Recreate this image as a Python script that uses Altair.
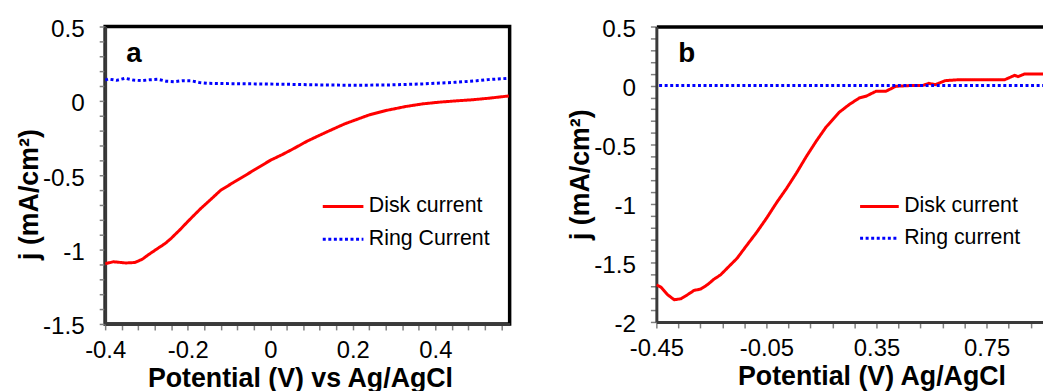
import altair as alt
import pandas as pd

FONT = "Liberation Sans"

# ---------------- Panel a data ----------------
a_disk_x = [-0.4, -0.38, -0.35, -0.328, -0.31, -0.296, -0.272, -0.255, -0.240, -0.220,
            -0.200, -0.185, -0.168, -0.145, -0.120, -0.09, -0.064, -0.03, 0.000, 0.03,
            0.056, 0.09, 0.136, 0.18, 0.240, 0.28, 0.328, 0.37, 0.408, 0.45, 0.488, 0.53, 0.578]
a_disk_y = [-1.095, -1.082, -1.09, -1.087, -1.065, -1.036, -0.991, -0.96, -0.924, -0.87,
            -0.812, -0.77, -0.723, -0.665, -0.601, -0.55, -0.507, -0.45, -0.400, -0.36,
            -0.322, -0.27, -0.210, -0.155, -0.094, -0.065, -0.038, -0.02, -0.009, 0.0, 0.007, 0.018, 0.033]
a_ring_x = [-0.4, -0.392, -0.372, -0.352, -0.332, -0.312, -0.292, -0.272, -0.252, -0.232,
            -0.212, -0.192, -0.172, -0.152, -0.1, -0.032, 0.05, 0.128, 0.2, 0.288,
            0.368, 0.448, 0.5, 0.528, 0.578]
a_ring_y = [0.14, 0.147, 0.138, 0.152, 0.14, 0.136, 0.142, 0.145, 0.132, 0.129,
            0.136, 0.135, 0.124, 0.118, 0.116, 0.114, 0.111, 0.107, 0.105, 0.107,
            0.114, 0.125, 0.135, 0.143, 0.152]
a_series = ["Disk current", "Ring Current"]

# ---------------- Panel b data ----------------
b_disk_x = [-0.45, -0.433, -0.409, -0.385, -0.361, -0.337, -0.313, -0.289, -0.265, -0.241,
            -0.217, -0.193, -0.157, -0.121, -0.085, -0.049, -0.013, 0.023, 0.059, 0.095,
            0.131, 0.167, 0.215, 0.251, 0.288, 0.312, 0.348, 0.384, 0.420, 0.468,
            0.516, 0.540, 0.564, 0.600, 0.648, 0.708, 0.816, 0.852, 0.864, 0.888, 0.955]
b_disk_y = [-1.686, -1.706, -1.770, -1.812, -1.804, -1.770, -1.733, -1.722, -1.686, -1.639,
            -1.602, -1.546, -1.462, -1.350, -1.24, -1.12, -0.99, -0.87, -0.74, -0.60,
            -0.47, -0.35, -0.225, -0.16, -0.104, -0.09, -0.048, -0.048, -0.006, 0.0,
            0.0, 0.019, 0.008, 0.042, 0.05, 0.05, 0.05, 0.087, 0.076, 0.098, 0.098]
b_ring_x = [-0.44, 0.955]
b_ring_y = [0.0, 0.0]
b_series = ["Disk current", "Ring current"]

# ---------------- Ticks and labels ----------------
a_x_ticks = [-0.4, -0.36, -0.32, -0.28, -0.24, -0.2, -0.16, -0.12, -0.08, -0.04, 0,
             0.04, 0.08, 0.12, 0.16, 0.2, 0.24, 0.28, 0.32, 0.36, 0.4, 0.44, 0.48, 0.52, 0.56]
a_x_label_values = [-0.4, -0.2, 0, 0.2, 0.4]
a_x_labels = ["-0.4", "-0.2", "0", "0.2", "0.4"]
a_y_ticks = [-1.5, -1.4, -1.3, -1.2, -1.1, -1.0, -0.9, -0.8, -0.7, -0.6, -0.5, -0.4, -0.3,
             -0.2, -0.1, 0, 0.1, 0.2, 0.3, 0.4, 0.5]
a_y_label_values = [-1.5, -1.0, -0.5, 0, 0.5]
a_y_labels = ["-1.5", "-1", "-0.5", "0", "0.5"]

b_x_ticks = [-0.45, -0.37, -0.29, -0.21, -0.13, -0.05, 0.03, 0.11, 0.19, 0.27, 0.35,
             0.43, 0.51, 0.59, 0.67, 0.75, 0.83, 0.91]
b_x_label_values = [-0.45, -0.05, 0.35, 0.75]
b_x_labels = ["-0.45", "-0.05", "0.35", "0.75"]
b_y_ticks = [-2.0, -1.9, -1.8, -1.7, -1.6, -1.5, -1.4, -1.3, -1.2, -1.1, -1.0, -0.9, -0.8,
             -0.7, -0.6, -0.5, -0.4, -0.3, -0.2, -0.1, 0, 0.1, 0.2, 0.3, 0.4, 0.5]
b_y_label_values = [-2.0, -1.5, -1.0, -0.5, 0, 0.5]
b_y_labels = ["-2", "-1.5", "-1", "-0.5", "0", "0.5"]

panel_labels = ["a", "b"]
panel_label_x = [-0.330, -0.340]
panel_label_y = [0.259, 0.204]


def label_expr(values, labels):
    parts = [f"datum.value == {v} ? '{l}'" for v, l in zip(values, labels)]
    return " : ".join(parts) + " : ''"


def x_axis(ticks, lv, ll, title, title_x):
    return alt.Axis(values=ticks, labelExpr=label_expr(lv, ll), title=title, orient="bottom",
                    grid=False, tickSize=6, tickColor="#808080", tickWidth=1.5,
                    domainColor="#3a3a3a", domainWidth=3,
                    labelFont=FONT, labelFontSize=24, labelColor="black", labelPadding=9,
                    labelFlush=False, labelOverlap=False,
                    titleFont=FONT, titleFontSize=27, titleFontWeight="bold", titleColor="black",
                    titleX=title_x, titleY=63, titleAlign="center", titleBaseline="alphabetic")


def y_axis(ticks, lv, ll, title_y):
    return alt.Axis(values=ticks, labelExpr=label_expr(lv, ll), title="j (mA/cm²)", orient="left",
                    grid=False, tickSize=6, tickColor="#808080", tickWidth=1.5,
                    domainColor="#3a3a3a", domainWidth=3,
                    labelFont=FONT, labelFontSize=24.5, labelColor="black", labelPadding=15,
                    labelOffset=3, labelOverlap=False, labelFlush=False,
                    titleFont=FONT, titleFontSize=27, titleFontWeight="bold", titleColor="black",
                    titleAngle=270, titleAlign="center", titleBaseline="middle",
                    titleX=-76.5, titleY=title_y)


def legend(x, y, size):
    return alt.Legend(title=None, orient="none", legendX=x, legendY=y, symbolType="stroke",
                      symbolSize=size, symbolStrokeWidth=3, labelFont=FONT, labelFontSize=21.5,
                      labelColor="black", labelOffset=4, padding=0, rowPadding=-2.5)


def enc_color(domain, lg):
    return alt.Color("series:N", scale=alt.Scale(domain=domain, range=["#ff0000", "#0000ff"]), legend=lg)


def enc_dash(domain, lg):
    return alt.StrokeDash("series:N", scale=alt.Scale(domain=domain, range=[[1, 0], [3, 2.6]]), legend=lg)


# ---------------- Panel a ----------------
a_df = pd.concat([
    pd.DataFrame({"x": a_disk_x, "y": a_disk_y, "series": a_series[0]}),
    pd.DataFrame({"x": a_ring_x, "y": a_ring_y, "series": a_series[1]}),
])
a_xs = alt.Scale(domain=[-0.4, 0.58], nice=False, zero=False)
a_ys = alt.Scale(domain=[-1.5, 0.5], nice=False, zero=False)
a_leg = legend(218, 159.5, 1681)

a_lines = alt.Chart(a_df).mark_line(strokeWidth=3, strokeCap="butt", clip=True).encode(
    x=alt.X("x:Q", scale=a_xs, axis=x_axis(a_x_ticks, a_x_label_values, a_x_labels,
                                             "Potential (V) vs Ag/AgCl", 196.5)),
    y=alt.Y("y:Q", scale=a_ys, axis=y_axis(a_y_ticks, a_y_label_values, a_y_labels, 169)),
    color=enc_color(a_series, a_leg),
    strokeDash=enc_dash(a_series, a_leg),
)
a_text = alt.Chart(pd.DataFrame({"x": [panel_label_x[0]], "y": [panel_label_y[0]], "t": [panel_labels[0]]})).mark_text(
    font=FONT, fontSize=28, fontWeight="bold", align="center", baseline="alphabetic", color="black"
).encode(x=alt.X("x:Q", scale=a_xs, axis=None), y=alt.Y("y:Q", scale=a_ys, axis=None), text="t:N")

panel_a = alt.layer(a_lines, a_text).resolve_axis(x="independent", y="independent").properties(
    width=408, height=300, view=alt.ViewBackground(stroke="black", strokeWidth=3.5)
)

# ---------------- Panel b ----------------
b_disk_df = pd.DataFrame({"x": b_disk_x, "y": b_disk_y, "series": b_series[0]})
b_ring_df = pd.DataFrame({"x": b_ring_x, "y": b_ring_y, "series": b_series[1]})
b_xs = alt.Scale(domain=[-0.45, 0.955], nice=False, zero=False)
b_ys = alt.Scale(domain=[-2.0, 0.5], nice=False, zero=False)
b_leg = legend(204, 160.5, 1521)

b_disk = alt.Chart(b_disk_df).mark_line(strokeWidth=3, strokeCap="butt", clip=True).encode(
    x=alt.X("x:Q", scale=b_xs, axis=x_axis(b_x_ticks, b_x_label_values, b_x_labels,
                                             "Potential (V) Ag/AgCl", 217)),
    y=alt.Y("y:Q", scale=b_ys, axis=y_axis(b_y_ticks, b_y_label_values, b_y_labels, 149)),
    color=enc_color(b_series, b_leg),
    strokeDash=enc_dash(b_series, b_leg),
)
b_ring = alt.Chart(b_ring_df).mark_line(strokeWidth=3, strokeCap="butt", clip=True).encode(
    x=alt.X("x:Q", scale=b_xs, axis=alt.Axis(orient="top", labels=False, ticks=False, title=None,
                                               grid=False, domainColor="black", domainWidth=3.5)),
    y=alt.Y("y:Q", scale=b_ys, axis=None),
    color=enc_color(b_series, b_leg),
    strokeDash=enc_dash(b_series, b_leg),
)
b_text = alt.Chart(pd.DataFrame({"x": [panel_label_x[1]], "y": [panel_label_y[1]], "t": [panel_labels[1]]})).mark_text(
    font=FONT, fontSize=28, fontWeight="bold", align="center", baseline="alphabetic", color="black"
).encode(x=alt.X("x:Q", scale=b_xs, axis=None), y=alt.Y("y:Q", scale=b_ys, axis=None), text="t:N")

panel_b = alt.layer(b_disk, b_ring, b_text).resolve_axis(x="independent", y="independent").properties(
    width=390, height=298, view=alt.ViewBackground(stroke="transparent")
)

chart = alt.hconcat(panel_a, panel_b, spacing=55).resolve_scale(
    color="independent", strokeDash="independent"
).resolve_legend(
    color="independent", strokeDash="independent"
).properties(
    padding={"left": 5, "top": 5, "right": 0, "bottom": 0},
    background="white",
).configure_view(strokeWidth=0)

chart.save("out.html", embed_options={"renderer": "svg", "actions": False})
